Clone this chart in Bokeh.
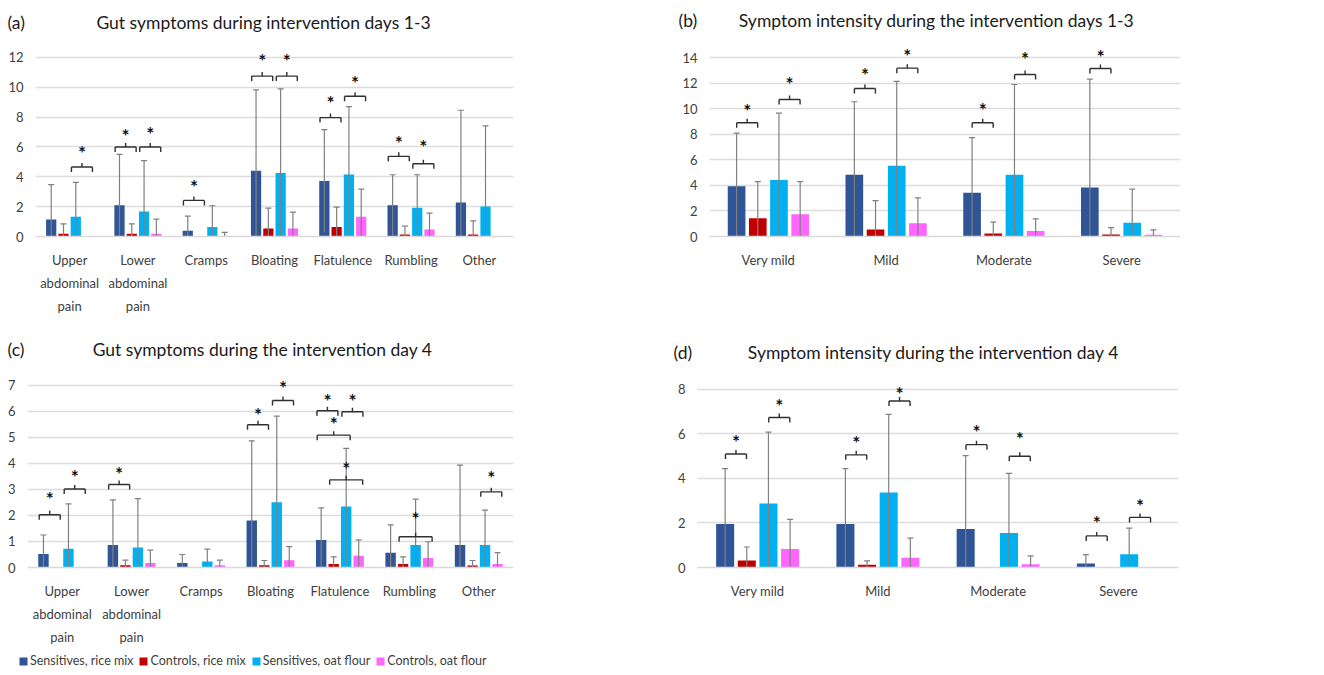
from bokeh.plotting import figure
from bokeh.models import (ColumnDataSource, Legend, LegendItem, FactorRange,
                          Range1d, FixedTicker)
from bokeh.layouts import column, row
from bokeh.embed import file_html
from bokeh.resources import INLINE
from bokeh.core.properties import value

FONT = "Lato"

SERIES = ["Sensitives, rice mix", "Controls, rice mix", "Sensitives, oat flour", "Controls, oat flour"]
COLORS = ["#2F5597", "#C00000", "#00B0F0", "#FF66FF"]

GUT_CATS = ["Upper\nabdominal\npain", "Lower\nabdominal\npain", "Cramps", "Bloating",
            "Flatulence", "Rumbling", "Other"]
INT_CATS = ["Very mild", "Mild", "Moderate", "Severe"]

TITLE_A = "Gut symptoms during intervention days 1-3"
TITLE_B = "Symptom intensity during the intervention days 1-3"
TITLE_C = "Gut symptoms during the intervention day 4"
TITLE_D = "Symptom intensity during the intervention day 4"

# ---------------- (a) Gut symptoms during intervention days 1-3 ----------------
a_sens_rice = [1.14, 2.10, 0.38, 4.41, 3.72, 2.10, 2.28]
a_sens_rice_hi = [3.47, 5.50, 1.37, 9.83, 7.16, 4.14, 8.46]
a_ctrl_rice = [0.18, 0.18, 0.00, 0.54, 0.63, 0.13, 0.13]
a_ctrl_rice_hi = [0.85, 0.85, 0.00, 1.90, 1.97, 0.69, 1.05]
a_sens_oat = [1.32, 1.68, 0.63, 4.25, 4.16, 1.93, 2.01]
a_sens_oat_hi = [3.63, 5.08, 2.06, 9.90, 8.71, 4.14, 7.41]
a_ctrl_oat = [0.00, 0.18, 0.02, 0.54, 1.32, 0.47, 0.00]
a_ctrl_oat_hi = [0.00, 1.16, 0.27, 1.63, 3.18, 1.57, 0.00]
a_ticks = [0, 2, 4, 6, 8, 10, 12]
a_br_cat = [GUT_CATS[0], GUT_CATS[1], GUT_CATS[1], "Cramps", "Bloating", "Bloating",
            "Flatulence", "Flatulence", "Rumbling", "Rumbling"]
a_br_pair = ["oat", "rice", "oat", "rice", "rice", "oat", "rice", "oat", "rice", "oat"]
a_br_y = [4.66, 6.00, 6.00, 2.42, 10.75, 10.75, 7.97, 9.40, 5.37, 4.88]
a_star_y = [5.93, 7.05, 7.19, 3.65, 12.09, 12.09, 9.25, 10.59, 6.54, 6.27]

# ---------------- (b) Symptom intensity days 1-3 ----------------
b_sens_rice = [3.93, 4.84, 3.43, 3.83]
b_sens_rice_hi = [8.09, 10.54, 7.73, 12.31]
b_ctrl_rice = [1.43, 0.55, 0.23, 0.16]
b_ctrl_rice_hi = [4.29, 2.81, 1.12, 0.70]
b_sens_oat = [4.42, 5.54, 4.84, 1.07]
b_sens_oat_hi = [9.65, 12.13, 11.89, 3.70]
b_ctrl_oat = [1.74, 1.04, 0.44, 0.13]
b_ctrl_oat_hi = [4.29, 3.02, 1.38, 0.52]
b_ticks = [0, 2, 4, 6, 8, 10, 12, 14]
b_br_cat = ["Very mild", "Very mild", "Mild", "Mild", "Moderate", "Moderate", "Severe"]
b_br_pair = ["rice", "oat", "rice", "oat", "rice", "oat", "rice"]
b_br_y = [8.90, 10.72, 11.58, 13.17, 8.90, 12.67, 13.14]
b_star_y = [10.20, 12.26, 12.96, 14.44, 10.28, 14.26, 14.39]

# ---------------- (c) Gut symptoms day 4 ----------------
c_sens_rice = [0.52, 0.87, 0.17, 1.81, 1.06, 0.57, 0.87]
c_sens_rice_hi = [1.25, 2.60, 0.50, 4.87, 2.29, 1.64, 3.94]
c_ctrl_rice = [0.00, 0.09, 0.00, 0.09, 0.13, 0.13, 0.08]
c_ctrl_rice_hi = [0.00, 0.28, 0.00, 0.27, 0.41, 0.41, 0.27]
c_sens_oat = [0.72, 0.77, 0.23, 2.51, 2.35, 0.87, 0.87]
c_sens_oat_hi = [2.45, 2.65, 0.71, 5.82, 4.58, 2.63, 2.21]
c_ctrl_oat = [0.00, 0.17, 0.09, 0.28, 0.45, 0.37, 0.13]
c_ctrl_oat_hi = [0.00, 0.67, 0.28, 0.80, 1.06, 0.99, 0.57]
c_ticks = [0, 1, 2, 3, 4, 5, 6, 7]
c_br_cat = [GUT_CATS[0], GUT_CATS[0], GUT_CATS[1], "Bloating", "Bloating", "Flatulence",
            "Flatulence", "Flatulence", "Flatulence", "Rumbling", "Other"]
c_br_pair = ["rice", "oat", "rice", "rice", "oat", "rice", "oat", "sens", "ctrl", "ctrl", "oat"]
c_br_y = [2.03, 3.02, 3.19, 5.49, 6.42, 6.03, 5.99, 5.09, 3.37, 1.18, 2.91]
c_star_y = [2.80, 3.67, 3.75, 6.03, 7.09, 6.59, 6.59, 5.68, 3.96, 2.05, 3.60]

# ---------------- (d) Symptom intensity day 4 ----------------
d_sens_rice = [1.95, 1.95, 1.73, 0.18]
d_sens_rice_hi = [4.44, 4.44, 5.03, 0.58]
d_ctrl_rice = [0.31, 0.12, 0.00, 0.00]
d_ctrl_rice_hi = [0.92, 0.30, 0.00, 0.00]
d_sens_oat = [2.87, 3.37, 1.55, 0.59]
d_sens_oat_hi = [6.08, 6.88, 4.23, 1.77]
d_ctrl_oat = [0.83, 0.44, 0.15, 0.00]
d_ctrl_oat_hi = [2.16, 1.32, 0.52, 0.00]
d_ticks = [0, 2, 4, 6, 8]
d_br_cat = ["Very mild", "Very mild", "Mild", "Mild", "Moderate", "Moderate", "Severe", "Severe"]
d_br_pair = ["rice", "oat", "rice", "oat", "rice", "oat", "rice", "oat"]
d_br_y = [5.10, 6.74, 5.06, 7.48, 5.52, 5.00, 1.42, 2.25]
d_star_y = [5.86, 7.48, 5.81, 8.01, 6.31, 5.96, 2.20, 2.97]

OFF = [-0.27, -0.09, 0.09, 0.27]
BAR_W = 0.15
PAIRS = {"rice": (0, 1), "oat": (2, 3), "sens": (0, 2), "ctrl": (1, 3)}


def panel(cats, means, his, ticks, ymax, W, H, bl, br, bt, bb,
          br_cat, br_pair, br_y, star_y):
    fw = W - bl - br
    fh = H - bt - bb
    pxpc = fw / len(cats)
    pxpu = fh / ymax
    p = figure(width=W, height=H, x_range=FactorRange(factors=cats),
               y_range=Range1d(0, ymax), output_backend="svg", toolbar_location=None,
               min_border_left=bl, min_border_right=br, min_border_top=bt,
               min_border_bottom=bb)
    p.outline_line_color = None
    p.xgrid.grid_line_color = None
    p.ygrid.grid_line_color = "#DCDCDC"
    p.ygrid.grid_line_width = 1.3
    p.yaxis.ticker = FixedTicker(ticks=ticks)
    p.yaxis.axis_line_color = None
    p.yaxis.major_tick_line_color = None
    p.yaxis.minor_tick_line_color = None
    p.yaxis.major_tick_out = 0
    p.yaxis.major_tick_in = 0
    p.yaxis.major_label_standoff = 12
    p.yaxis.major_label_text_font = FONT
    p.yaxis.major_label_text_font_size = "13px"
    p.yaxis.major_label_text_color = "#404040"
    p.xaxis.axis_line_color = "#D9D9D9"
    p.xaxis.axis_line_width = 1.3
    p.xaxis.major_tick_line_color = None
    p.xaxis.minor_tick_line_color = None
    p.xaxis.major_tick_out = 0
    p.xaxis.major_tick_in = 0
    p.xaxis.major_label_standoff = 15
    p.xaxis.major_label_text_font = FONT
    p.xaxis.major_label_text_font_size = "13px"
    p.xaxis.major_label_text_color = "#404040"
    p.xaxis.major_label_text_line_height = 1.44

    # bars
    for s in range(4):
        src = ColumnDataSource(dict(x=[(c, OFF[s]) for c in cats], top=means[s]))
        p.vbar(x="x", top="top", width=BAR_W, source=src, fill_color=COLORS[s],
               line_color=None)

    # error bars (mean +/- SD, lower end clipped at 0)
    ex0, ey0, ex1, ey1 = [], [], [], []
    capw = 3.0 / pxpc
    for s in range(4):
        for c, m, h in zip(cats, means[s], his[s]):
            if h <= 0:
                continue
            lo = max(0.0, 2 * m - h)
            ex0.append((c, OFF[s])); ey0.append(lo); ex1.append((c, OFF[s])); ey1.append(h)
            ex0.append((c, OFF[s] - capw)); ey0.append(h)
            ex1.append((c, OFF[s] + capw)); ey1.append(h)
    p.segment(x0="x0", y0="y0", x1="x1", y1="y1", line_color="#808080", line_width=1.2,
              source=ColumnDataSource(dict(x0=ex0, y0=ey0, x1=ex1, y1=ey1)))

    # significance brackets
    bx0, by0, bx1, by1 = [], [], [], []
    sx, sy = [], []
    down = 5.0 / pxpu
    up = 4.0 / pxpu
    for c, pr, yb, ys in zip(br_cat, br_pair, br_y, star_y):
        i, j = PAIRS[pr]
        ctr = (OFF[i] + OFF[j]) / 2
        hw = (10.5 if j - i == 1 else 16.5) / pxpc
        segs = [((ctr - hw, yb), (ctr + hw, yb)),
                ((ctr - hw, yb), (ctr - hw, yb - down)),
                ((ctr + hw, yb), (ctr + hw, yb - down)),
                ((ctr, yb), (ctr, yb + up))]
        for (xa, ya), (xb, yb2) in segs:
            bx0.append((c, xa)); by0.append(ya); bx1.append((c, xb)); by1.append(yb2)
        sx.append((c, ctr)); sy.append(ys)
    p.segment(x0="x0", y0="y0", x1="x1", y1="y1", line_color="#303030", line_width=1.4,
              source=ColumnDataSource(dict(x0=bx0, y0=by0, x1=bx1, y1=by1)))
    p.text(x="x", y="y", text=value("*"), source=ColumnDataSource(dict(x=sx, y=sy)),
           text_font=value(FONT), text_font_size="19px", text_font_style="bold",
           text_color="#111111", text_align="center", text_baseline="middle",
           y_offset=4)
    return p


def title_strip(W, h, letter, letter_x, title, title_x, ty):
    s = figure(width=W, height=h, x_range=Range1d(0, W), y_range=Range1d(0, h),
               x_axis_type=None, y_axis_type=None, output_backend="svg",
               toolbar_location=None, min_border=0)
    s.outline_line_color = None
    s.text(x=[letter_x], y=[ty], text=[letter], text_font=value(FONT),
           text_font_size="17.5px", text_color="#1A1A1A", text_align="left",
           text_baseline="middle")
    s.text(x=[title_x], y=[ty], text=[title], text_font=value(FONT),
           text_font_size="17.5px", text_color="#1A1A1A", text_align="center",
           text_baseline="middle")
    return s


# strip 1: y 0-38 ; row 1 frames 38-236 ; strip 2: 316-366 ; row 2 frames 366-567 ; legend 647-675
ta = title_strip(660, 38, "(a)", 7, TITLE_A, 263, 16)
tb = title_strip(664, 38, "(b)", 18, TITLE_B, 276, 18)
tc = title_strip(660, 50, "(c)", 7, TITLE_C, 262, 17)
td = title_strip(664, 50, "(d)", 13, TITLE_D, 273, 14)

H1 = 278
H2 = 281
pa = panel(GUT_CATS, [a_sens_rice, a_ctrl_rice, a_sens_oat, a_ctrl_oat],
           [a_sens_rice_hi, a_ctrl_rice_hi, a_sens_oat_hi, a_ctrl_oat_hi],
           a_ticks, 13.27, 660, H1, 35, 147, 0, 80,
           a_br_cat, a_br_pair, a_br_y, a_star_y)
pb = panel(INT_CATS, [b_sens_rice, b_ctrl_rice, b_sens_oat, b_ctrl_oat],
           [b_sens_rice_hi, b_ctrl_rice_hi, b_sens_oat_hi, b_ctrl_oat_hi],
           b_ticks, 15.49, 664, H1, 49, 144, 0, 80,
           b_br_cat, b_br_pair, b_br_y, b_star_y)
pc = panel(GUT_CATS, [c_sens_rice, c_ctrl_rice, c_sens_oat, c_ctrl_oat],
           [c_sens_rice_hi, c_ctrl_rice_hi, c_sens_oat_hi, c_ctrl_oat_hi],
           c_ticks, 7.73, 660, H2, 27, 147, 0, 80,
           c_br_cat, c_br_pair, c_br_y, c_star_y)
pd_ = panel(INT_CATS, [d_sens_rice, d_ctrl_rice, d_sens_oat, d_ctrl_oat],
            [d_sens_rice_hi, d_ctrl_rice_hi, d_sens_oat_hi, d_ctrl_oat_hi],
            d_ticks, 9.03, 664, H2, 37, 146, 0, 80,
            d_br_cat, d_br_pair, d_br_y, d_star_y)

# legend strip
lg = figure(width=1324, height=28, x_range=Range1d(0, 1), y_range=Range1d(0, 1),
            x_axis_type=None, y_axis_type=None, output_backend="svg",
            toolbar_location=None, min_border=0)
lg.outline_line_color = None
items = []
for s in range(4):
    r = lg.vbar(x=[0.5], top=[0], bottom=[0], width=0.0, fill_color=COLORS[s],
                line_color=None)
    items.append(LegendItem(label=SERIES[s], renderers=[r]))
leg = Legend(items=items, orientation="horizontal", location=(18, 7),
             glyph_width=10, glyph_height=10, label_standoff=2, spacing=5,
             padding=0, margin=0, border_line_color=None, background_fill_alpha=0,
             label_text_font=FONT, label_text_font_size="12.5px",
             label_text_color="#404040", label_height=12, label_width=10)
lg.add_layout(leg)

layout = column(row(ta, tb), row(pa, pb), row(tc, td), row(pc, pd_), lg)
open("out.html", "w").write(file_html(layout, INLINE))
